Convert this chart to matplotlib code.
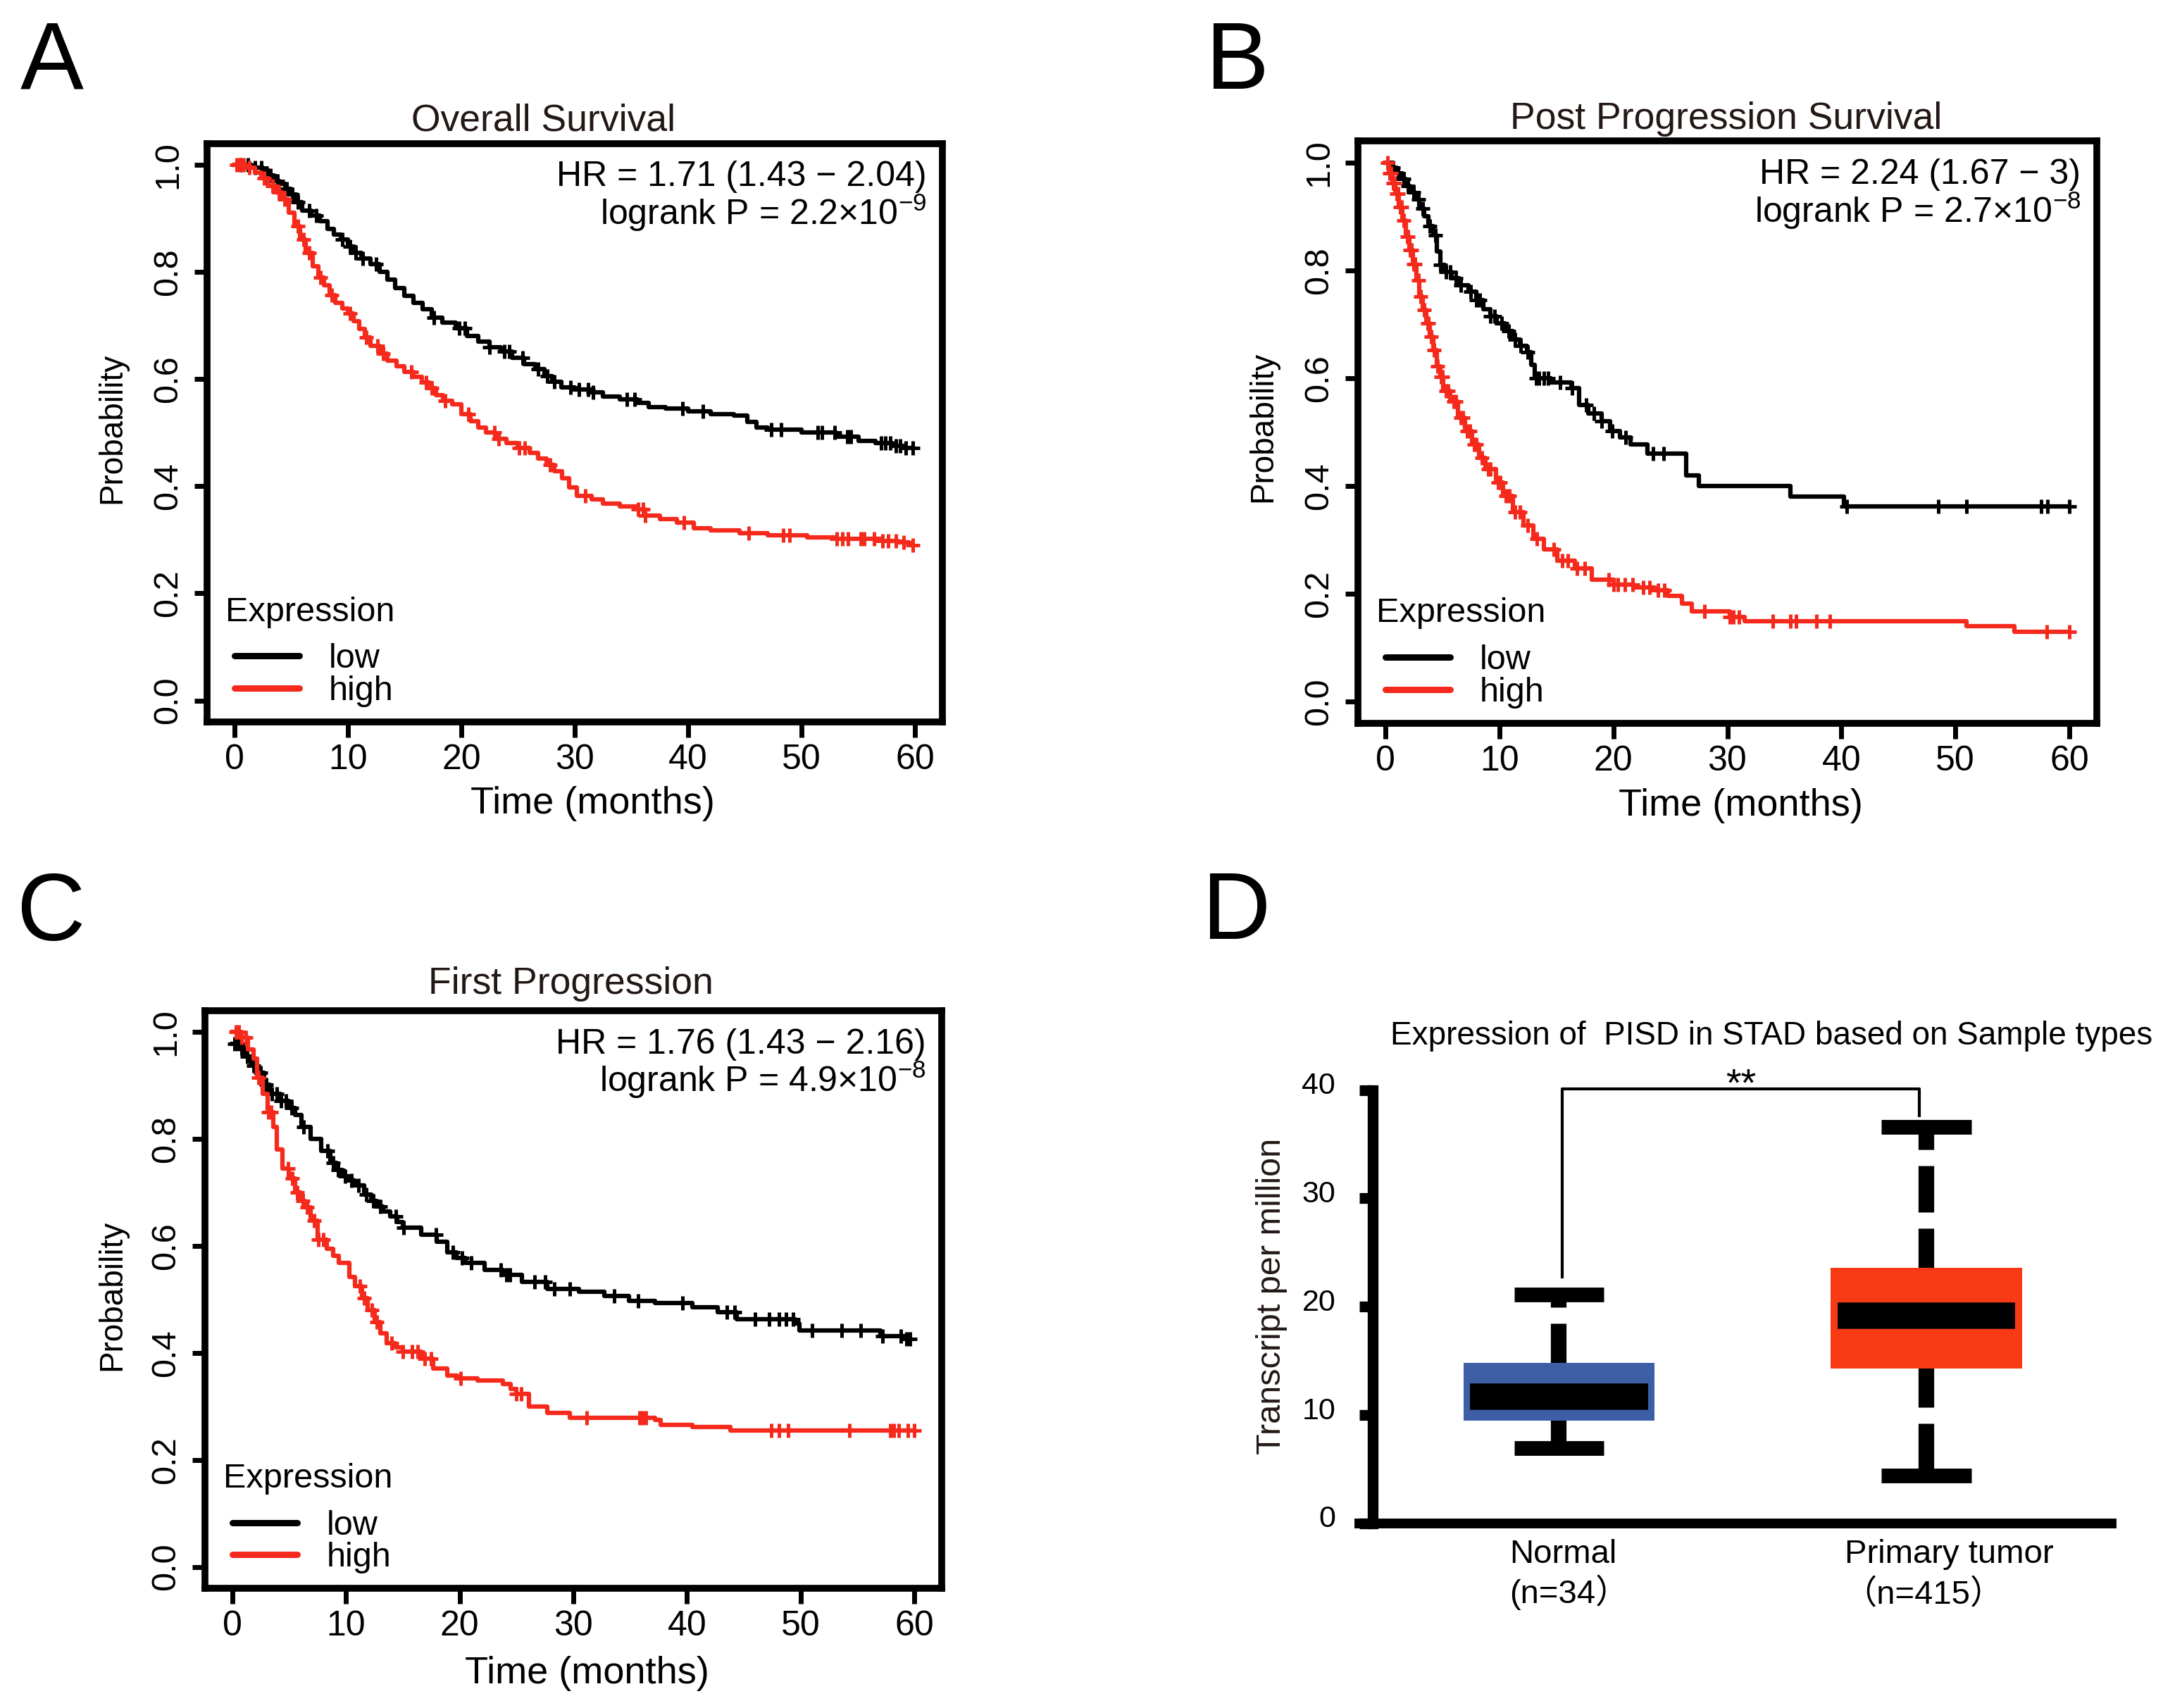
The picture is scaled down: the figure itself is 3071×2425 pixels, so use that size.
import numpy as np
import matplotlib
matplotlib.use('Agg')
import matplotlib.pyplot as plt
from matplotlib.transforms import ScaledTranslation

plt.rcParams['font.family'] = ['Liberation Sans', 'Noto Sans CJK SC', 'DejaVu Sans']
plt.rcParams['mathtext.fontset'] = 'custom'
plt.rcParams['mathtext.rm'] = 'Liberation Sans'
plt.rcParams['lines.scale_dashes'] = False

# ---------------- data ----------------
# A: overall survival
os_low_t = [0, 1.5, 2.5, 3.0, 3.5, 4.0, 4.5, 5.0, 5.5, 6.0, 6.8, 7.5, 8.2, 8.8, 9.4, 10.0,
            10.6, 11.2, 12.0, 12.8, 13.5, 14.2, 15.0, 15.8, 16.6, 17.4, 18.3, 19.5, 20.5,
            21.5, 22.5, 23.5, 24.5, 25.5, 26.5, 27.3, 28.0, 28.8, 30.0, 31.5, 32.5, 34.0,
            35.5, 36.5, 38.0, 40.0, 42.0, 44.0, 45.2, 46.0, 47.0, 50.0, 53.0, 55.0, 56.5,
            58.0, 59.0]
os_low_s = [1.0, 0.995, 0.99, 0.98, 0.97, 0.965, 0.955, 0.945, 0.93, 0.915, 0.905, 0.895,
            0.88, 0.87, 0.86, 0.848, 0.835, 0.825, 0.815, 0.80, 0.785, 0.77, 0.755, 0.742,
            0.73, 0.715, 0.705, 0.695, 0.68, 0.67, 0.66, 0.652, 0.64, 0.628, 0.618, 0.605,
            0.595, 0.585, 0.58, 0.575, 0.568, 0.562, 0.555, 0.548, 0.545, 0.54, 0.535,
            0.532, 0.52, 0.51, 0.505, 0.50, 0.492, 0.485, 0.48, 0.475, 0.472]
os_low_cens = [0.6, 1.2, 1.8, 2.4, 3.2, 3.8, 4.6, 5.1, 5.6, 6.6, 7.2, 9.5, 10.2, 10.7, 11.3,
               12.5, 17.6, 19.8, 20.3, 22.5, 23.8, 24.2, 25.4, 26.8, 27.6, 28.2, 29.6, 30.4,
               31.2, 31.6, 34.6, 35.3, 39.5, 41.3, 47.3, 48.2, 51.4, 51.8, 52.9, 54.0, 54.3,
               57.0, 57.4, 57.8, 58.3, 58.7, 59.2, 59.8]
os_high_t = [0, 1.0, 1.8, 2.4, 3.0, 3.6, 4.2, 4.8, 5.3, 5.8, 6.3, 6.9, 7.4, 7.9, 8.4, 8.9,
             9.5, 10.0, 10.5, 11.0, 11.5, 12.0, 12.8, 13.5, 14.3, 15.0, 15.8, 16.5, 17.2,
             17.8, 18.4, 19.2, 20.0, 20.8, 21.5, 22.2, 23.0, 24.0, 25.0, 26.0, 26.8, 27.5,
             28.2, 28.9, 29.5, 30.2, 31.5, 32.5, 34.0, 35.5, 36.2, 37.5, 39.0, 40.5, 42.0,
             44.5, 47.0, 50.5, 53.0, 57.0, 58.5, 59.5]
os_high_s = [1.0, 0.995, 0.985, 0.975, 0.96, 0.948, 0.935, 0.91, 0.885, 0.86, 0.835, 0.81,
             0.79, 0.775, 0.757, 0.742, 0.732, 0.722, 0.708, 0.693, 0.678, 0.662, 0.648,
             0.635, 0.624, 0.614, 0.604, 0.594, 0.583, 0.57, 0.56, 0.553, 0.535, 0.522,
             0.51, 0.50, 0.488, 0.48, 0.472, 0.462, 0.452, 0.44, 0.428, 0.415, 0.398, 0.382,
             0.375, 0.368, 0.362, 0.357, 0.345, 0.338, 0.332, 0.322, 0.318, 0.312, 0.308,
             0.305, 0.302, 0.298, 0.295, 0.29]
os_high_cens = [0.2, 0.5, 0.8, 1.3, 2.6, 3.4, 3.9, 4.4, 5.6, 6.1, 6.6, 7.6, 8.6, 10.2, 11.6,
                12.6, 13.1, 15.6, 16.9, 17.4, 18.6, 20.6, 22.9, 23.3, 25.1, 25.6, 27.8, 30.9,
                35.6, 36.0, 36.2, 39.6, 45.3, 48.4, 48.9, 53.1, 53.6, 54.1, 55.2, 55.5, 56.4,
                57.1, 57.6, 58.3, 59.0, 59.8]

# B: post progression survival
pps_low_t = [0, 0.6, 1.0, 1.5, 1.8, 2.2, 2.6, 3.0, 3.4, 3.8, 4.2, 4.5, 4.8, 5.2, 5.8, 6.5,
             7.3, 8.0, 8.6, 9.2, 9.8, 10.5, 11.2, 11.8, 12.4, 12.8, 13.1, 14.5, 16.3, 17.0,
             17.8, 19.0, 19.7, 20.6, 21.5, 23.0, 26.4, 27.5, 35.5, 40.2]
pps_low_s = [1.0, 0.99, 0.98, 0.97, 0.957, 0.945, 0.932, 0.915, 0.90, 0.882, 0.865, 0.835,
             0.81, 0.797, 0.785, 0.772, 0.76, 0.745, 0.728, 0.715, 0.702, 0.688, 0.672,
             0.66, 0.648, 0.625, 0.60, 0.592, 0.582, 0.55, 0.535, 0.52, 0.502, 0.49, 0.477,
             0.46, 0.42, 0.40, 0.38, 0.362]
pps_low_cens = [0.7, 1.1, 1.6, 2.0, 2.5, 2.9, 3.3, 3.9, 4.4, 4.8, 5.3, 5.7, 6.2, 6.6, 7.5,
                8.0, 8.3, 9.2, 9.6, 10.2, 10.8, 11.4, 11.9, 12.5, 13.2, 13.5, 13.9, 14.3,
                15.3, 16.4, 17.6, 18.3, 19.0, 19.9, 21.1, 23.5, 24.4, 40.5, 48.5, 51.0,
                57.5, 58.1, 60.0]
pps_high_t = [0, 0.3, 0.6, 0.9, 1.2, 1.5, 1.8, 2.1, 2.4, 2.7, 3.0, 3.3, 3.6, 3.9, 4.2, 4.5,
              4.8, 5.1, 5.7, 6.4, 7.0, 7.6, 8.2, 8.8, 9.7, 10.3, 11.2, 12.1, 13.0, 13.9,
              15.1, 16.6, 18.1, 20.0, 21.8, 23.6, 24.8, 26.0, 26.9, 30.2, 31.5, 51.0, 55.2]
pps_high_s = [1.0, 0.98, 0.962, 0.942, 0.917, 0.892, 0.862, 0.837, 0.812, 0.782, 0.752,
              0.727, 0.702, 0.677, 0.652, 0.622, 0.602, 0.577, 0.557, 0.527, 0.502, 0.477,
              0.452, 0.432, 0.407, 0.382, 0.352, 0.327, 0.302, 0.282, 0.262, 0.247, 0.227,
              0.217, 0.212, 0.207, 0.197, 0.182, 0.167, 0.157, 0.15, 0.14, 0.13]
pps_high_cens = [0.2, 0.4, 0.5, 0.7, 0.8, 1.0, 1.1, 1.3, 1.4, 1.6, 1.9, 2.0, 2.2, 2.3, 2.5,
                 2.6, 2.9, 3.1, 3.4, 3.7, 3.8, 4.0, 4.3, 4.6, 4.9, 5.0, 5.3, 5.5, 6.0, 6.2,
                 6.6, 6.8, 7.2, 7.4, 7.8, 8.0, 8.5, 9.0, 9.2, 9.9, 10.1, 10.6, 10.9, 11.4,
                 11.8, 12.5, 13.3, 14.8, 15.5, 16.0, 16.8, 17.5, 19.6, 20.0, 20.4, 21.0,
                 21.7, 22.6, 23.2, 23.9, 24.5, 28.0, 30.2, 30.5, 31.0, 34.0, 35.5, 36.0,
                 37.8, 39.0, 58.0, 60.0]

# C: first progression
fp_low_t = [0, 0.6, 1.1, 1.7, 2.2, 2.8, 3.3, 4.2, 5.0, 5.5, 6.1, 6.9, 7.8, 8.6, 9.2, 9.7,
            10.3, 10.8, 11.6, 12.2, 12.7, 13.3, 13.9, 14.5, 15.0, 16.6, 18.0, 18.9, 19.7,
            20.5, 22.2, 23.8, 25.5, 27.7, 30.5, 32.7, 34.9, 37.2, 40.5, 42.7, 44.4, 49.5,
            49.9, 57.0, 59.3]
fp_low_s = [0.978, 0.97, 0.955, 0.937, 0.924, 0.902, 0.884, 0.871, 0.858, 0.845, 0.823,
            0.80, 0.778, 0.755, 0.742, 0.731, 0.722, 0.713, 0.696, 0.685, 0.674, 0.665,
            0.656, 0.645, 0.634, 0.621, 0.608, 0.588, 0.578, 0.568, 0.555, 0.546, 0.533,
            0.52, 0.515, 0.507, 0.498, 0.494, 0.485, 0.476, 0.463, 0.455, 0.442, 0.432,
            0.426]
fp_low_cens = [0.2, 0.5, 0.8, 1.3, 1.9, 2.5, 3.0, 3.5, 3.9, 4.3, 4.7, 5.2, 6.3, 8.4, 8.9,
               9.3, 9.9, 10.5, 11.1, 11.8, 12.4, 13.0, 14.4, 15.1, 17.9, 19.4, 20.2, 21.0,
               23.6, 24.1, 24.4, 26.6, 27.5, 28.3, 29.7, 33.6, 35.7, 39.6, 43.5, 44.2, 46.0,
               47.2, 48.1, 48.7, 49.3, 51.0, 53.6, 55.3, 57.2, 58.8, 59.3, 59.6]
fp_high_t = [0, 0.8, 1.4, 1.9, 2.2, 2.7, 3.1, 3.6, 3.9, 4.4, 5.0, 5.5, 6.0, 6.4, 6.9, 7.5,
             8.3, 8.9, 9.4, 10.3, 10.8, 11.4, 11.9, 12.5, 13.0, 13.6, 14.3, 15.0, 16.6,
             17.7, 18.9, 19.8, 21.6, 23.8, 24.5, 25.0, 26.1, 27.7, 29.7, 37.2, 37.7, 40.5,
             43.8]
fp_high_s = [1.0, 0.99, 0.968, 0.95, 0.915, 0.884, 0.85, 0.823, 0.78, 0.745, 0.726, 0.70,
             0.685, 0.672, 0.647, 0.612, 0.595, 0.582, 0.568, 0.542, 0.525, 0.503, 0.48,
             0.458, 0.437, 0.419, 0.41, 0.402, 0.389, 0.371, 0.358, 0.352, 0.349, 0.342,
             0.333, 0.323, 0.30, 0.288, 0.279, 0.275, 0.266, 0.261, 0.255]
fp_high_cens = [0.3, 0.6, 0.8, 1.2, 2.3, 3.2, 3.4, 4.9, 5.3, 5.7, 6.2, 6.6, 7.2, 7.6, 8.0,
                11.2, 11.6, 12.3, 12.7, 14.0, 15.0, 15.8, 16.3, 16.9, 17.5, 20.1, 25.0,
                25.4, 31.2, 35.8, 36.1, 36.4, 47.4, 48.1, 48.9, 54.3, 57.9, 58.2, 58.6,
                59.4, 60.0]

km_titles = ['Overall Survival', 'Post Progression Survival', 'First Progression']
km_hr = ['1.71 (1.43 \u2212 2.04)', '2.24 (1.67 \u2212 3)', '1.76 (1.43 \u2212 2.16)']
km_p = [r'2.2×10$^{\mathregular{-9}}$', r'2.7×10$^{\mathregular{-8}}$',
        r'4.9×10$^{\mathregular{-8}}$']

# D: PISD expression boxplot
groups = ['Normal', 'Primary tumor']
group_n = ['(n=34\uff09', '\uff08n=415\uff09']
q1 = [9.49, 14.31]
med = [11.68, 19.16]
q3 = [14.82, 23.6]
whisker_lo = [6.93, 4.39]
whisker_hi = [21.14, 36.57]
sig_label = '**'
sig_low = [22.74, 37.6]
sig_top = 40.1

# ---------------- drawing ----------------
W, H = 3071, 2425
RED = '#f52a1c'
DARK = '#231815'

fig = plt.figure(figsize=(W / 100, H / 100), dpi=100)


def rect(l, t, r, b):
    return [l / W, 1 - b / H, (r - l) / W, (b - t) / H]


def ftext(x, y, s, **kw):
    return fig.text(x / W, 1 - y / H, s, **kw)


def km_panel(box, curves, hr, pval):
    ax = fig.add_axes(rect(*box))
    for t, s, cens, col, lab in curves:
        t = np.asarray(t, float)
        s = np.asarray(s, float)
        cens = np.asarray(cens, float)
        end = max(t[-1], cens.max())
        ax.step(np.r_[t, end], np.r_[s, s[-1]], where='post', color=col, lw=4.5, label=lab)
        cy = s[np.searchsorted(t, cens, side='right') - 1]
        ax.plot(cens, cy, ls='none', marker='+', ms=15, mew=3.6, color=col)
    ax.set_xlim(-2.4, 62.4)
    ax.set_ylim(-0.04, 1.04)
    for sp in ax.spines.values():
        sp.set_linewidth(7)
    ax.tick_params(axis='x', length=16, width=5, pad=6, labelsize=36)
    ax.tick_params(axis='y', length=13, width=5, pad=18, labelsize=35)
    ax.set_xticks(np.arange(0, 61, 10))
    yt = np.arange(0, 1.01, 0.2)
    ax.set_yticks(yt)
    ax.set_yticklabels([f'{v:.1f}' for v in yt], rotation=90, rotation_mode='anchor',
                       ha='center', va='baseline')
    leg = ax.legend(loc='lower left', bbox_to_anchor=(0, -0.013), bbox_transform=ax.transData,
                    frameon=False, fontsize=35, handlelength=1.9, handletextpad=0.85,
                    labelspacing=0.02, borderpad=0, borderaxespad=0)
    for ln in leg.get_lines():
        ln.set_linewidth(6.5)
        ln.set_solid_capstyle('round')
    ax.text(-0.8, 0.148, 'Expression', fontsize=35, va='baseline')
    ax.text(61.0, 0.96, 'HR = ' + hr, fontsize=36, ha='right', va='baseline')
    ax.text(61.0, 0.888, 'logrank P = ' + pval, fontsize=36, ha='right', va='baseline')
    return ax


panels = [
    dict(box=(294, 203.5, 1338, 1025),
         curves=[(os_low_t, os_low_s, os_low_cens, 'black', 'low'),
                 (os_high_t, os_high_s, os_high_cens, RED, 'high')],
         letter=(29, 126), title=(772, 185), ylab=(171, 608), xlab=(841, 1155)),
    dict(box=(1928, 200, 2977, 1027),
         curves=[(pps_low_t, pps_low_s, pps_low_cens, 'black', 'low'),
                 (pps_high_t, pps_high_s, pps_high_cens, RED, 'high')],
         letter=(1712, 126), title=(2451, 183), ylab=(1805, 606), xlab=(2471, 1158)),
    dict(box=(291, 1435, 1337, 2255),
         curves=[(fp_low_t, fp_low_s, fp_low_cens, 'black', 'low'),
                 (fp_high_t, fp_high_s, fp_high_cens, RED, 'high')],
         letter=(23, 1335), title=(810, 1411), ylab=(171, 1839), xlab=(833, 2390)),
]

for i, p in enumerate(panels):
    km_panel(p['box'], p['curves'], km_hr[i], km_p[i])
    ftext(*p['letter'], 'ABC'[i], fontsize=97, va='baseline')
    ftext(*p['title'], km_titles[i], fontsize=38.5, ha='center', va='baseline', color=DARK)
    ftext(*p['ylab'], 'Probability', fontsize=33, rotation=90, rotation_mode='anchor',
          ha='center', va='baseline')
    ftext(*p['xlab'], 'Time (months)', fontsize=39, ha='center', va='baseline')

# ---- panel D ----
axd = fig.add_axes(rect(1949, 1547.5, 2998, 2163))
pos = np.arange(1, len(groups) + 1)
axd.bar(pos, np.subtract(q3, q1), bottom=q1, width=0.52, color=['#3e5ea6', '#f93b15'],
        zorder=2)
dash = (0, (40, 16.5, 47.5, 16.5))
for x, lo, a, m, b, hi in zip(pos, whisker_lo, q1, med, q3, whisker_hi):
    for start, end in ((b, hi), (a, lo)):
        axd.plot([x, x], [start, end], color='black', lw=16, ls=dash,
                 dash_capstyle='butt', solid_capstyle='butt', zorder=1)
        axd.plot([x - 0.122, x + 0.122], [end, end], color='black', lw=15,
                 solid_capstyle='butt', zorder=3)
    axd.plot([x - 0.242, x + 0.242], [m, m], color='black', lw=27,
             solid_capstyle='butt', zorder=3)

# significance bracket
bx = [pos[0] + 0.009, pos[1] - 0.019]
axd.plot([bx[0], bx[0], bx[1], bx[1]], [sig_low[0], sig_top, sig_top, sig_low[1]],
         color='black', lw=3, clip_on=False, zorder=4)
axd.text(np.mean(bx), sig_top - 0.6, sig_label, fontsize=40, ha='center', va='baseline')

axd.set_xlim(0.493, 2.504)
axd.set_ylim(0, 40)
axd.spines[['top', 'right']].set_visible(False)
axd.spines['left'].set_linewidth(11)
axd.spines['bottom'].set_linewidth(10)
axd.spines['bottom'].set_bounds(0.457, 2.504)
axd.tick_params(axis='x', length=0, labelbottom=False)
axd.tick_params(axis='y', length=14, width=11, pad=24, labelsize=31)
axd.set_yticks([0, 10, 20, 30, 40])
off = ScaledTranslation(0, 10 / 100, fig.dpi_scale_trans)
for lab in axd.get_yticklabels():
    lab.set_transform(lab.get_transform() + off)

ftext(1707, 1333, 'D', fontsize=97, va='baseline')
ftext(1974, 1483, 'Expression of  PISD in STAD based on Sample types', fontsize=33,
      va='baseline')
ftext(1805, 1840, 'Transcript per million', fontsize=35, rotation=90, ha='center',
      va='center', color=DARK)
ftext(2219, 2219, groups[0], fontsize=34, ha='center', va='baseline')
ftext(2767, 2219, groups[1], fontsize=34, ha='center', va='baseline')
ftext(2143, 2276, group_n[0], fontsize=34, ha='left', va='baseline')
ftext(2617, 2276, group_n[1], fontsize=34, ha='left', va='baseline')

fig.savefig('out.png', dpi=100)
